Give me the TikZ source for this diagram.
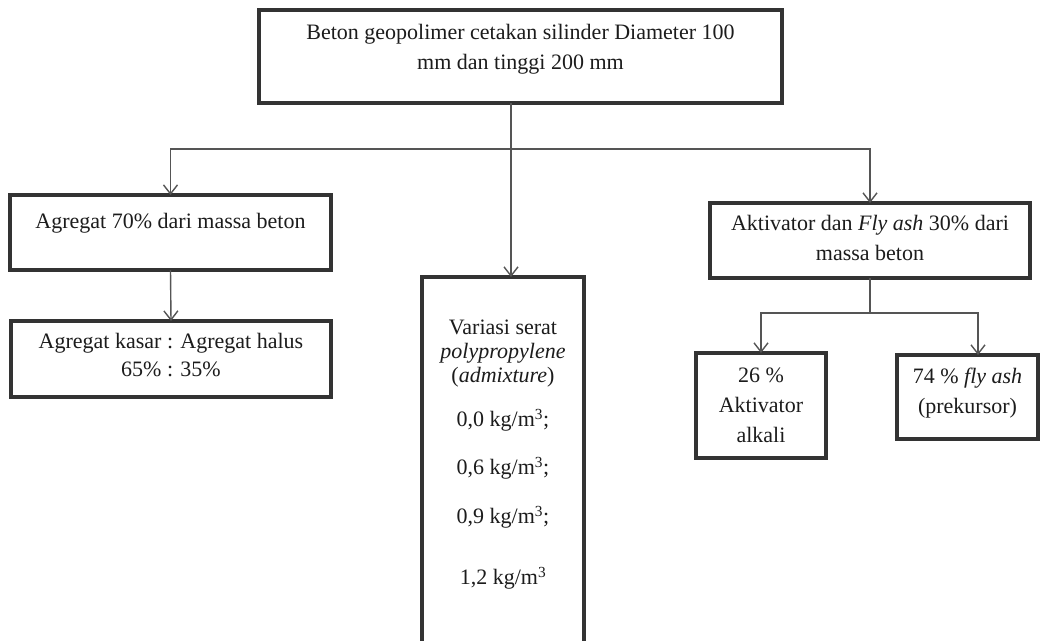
\documentclass[tikz,border=0pt]{standalone}
\usepackage{fontspec}
\setmainfont{Liberation Serif}
\usetikzlibrary{arrows.meta}

\definecolor{boxgray}{HTML}{333333}
\definecolor{linegray}{HTML}{555555}
\definecolor{textgray}{HTML}{1C1C1C}

% box from (left,top) to (right,bottom), text node placed with options #6
\newcommand\flowbox[7]{
		\node (#1) at ({(#2+#4)/2},{(#3+#5)/2}) [box,minimum width={(#4-#2)*1pt},minimum height={(#5-#3)*1pt}] {};
		\node (#1-text) at (#1.north) [txt,anchor=north,#6] {#7};
	}

\begin{document}
\begin{tikzpicture}[x=1pt,y=-1pt,
		box/.style={draw=boxgray,line width=4pt,fill=white,inner sep=0,outer sep=0},
		txt/.style={text=textgray,align=center,inner sep=0,font=\fontsize{22}{30}\selectfont},
		conn/.style={draw=linegray,line width=1.4pt},
		every path/.style={>={Straight Barb[length=9pt,width=14pt]}}]
		\useasboundingbox (0,0) rectangle (1041,640);
		\clip (0,0) rectangle (1041,640);

		% draw main box
		\flowbox{top}{259}{10}{782}{103}{yshift=-14pt}{Beton geopolimer cetakan silinder Diameter 100\\ mm dan tinggi 200 mm}

		% draw aggregate boxes
		\flowbox{agg}{10}{195}{331}{270}{yshift=-18pt}{Agregat 70\% dari massa beton}
		\flowbox{ratio}{11}{321}{331}{397}{yshift=-12pt,font=\fontsize{22}{28}\selectfont}{Agregat kasar : Agregat halus\\ 65\% : 35\%}

		% draw fibre box (runs off the page)
		\flowbox{fiber}{422}{277}{584}{680}{yshift=-43pt,font=\fontsize{22}{24}\selectfont}{Variasi serat\\ \textit{polypropylene}\\ (\textit{admixture})\\[20pt]
			0,0 kg/m\textsuperscript{3};\\[24pt] 0,6 kg/m\textsuperscript{3};\\[25pt] 0,9 kg/m\textsuperscript{3};\\[37pt] 1,2 kg/m\textsuperscript{3}}

		% draw activator boxes
		\flowbox{act}{710}{203}{1030}{278}{yshift=-12pt}{Aktivator dan \textit{Fly ash} 30\% dari\\ massa beton}
		\flowbox{alk}{696}{353}{826}{458}{yshift=-15pt}{26 \%\\ Aktivator\\ alkali}
		\flowbox{ash}{897}{355}{1038}{439}{yshift=-13pt}{74 \% \textit{fly ash}\\ (prekursor)}

		% draw connectors
		\coordinate (split) at (511,149);
		\coordinate (actsplit) at (869,313);
		\coordinate (ashin) at (978,355);
		\draw[conn] (top.south -| split) -- (split);
		\draw[conn,->] (split) -| (agg.north);
		\draw[conn,->] (split) -| (act.north);
		\draw[conn,->] (split) -- (split |- fiber.north);
		\draw[conn,->] (agg.south) -- (ratio.north);
		\draw[conn] (act.south) -- (act.south |- actsplit);
		\draw[conn,->] (actsplit) -| (alk.north);
		\draw[conn,->] (actsplit) -| (ashin);
	\end{tikzpicture}
\end{document}
